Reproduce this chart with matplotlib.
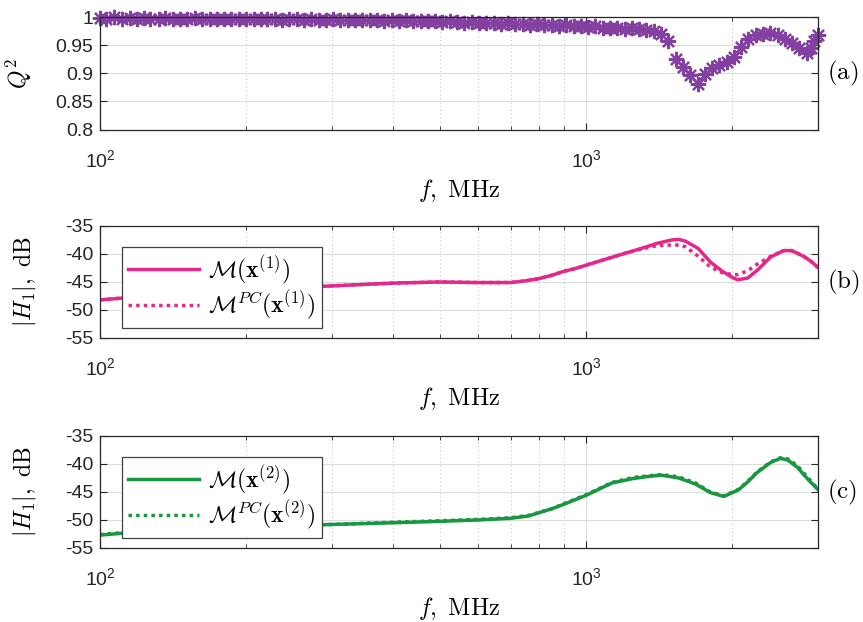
import matplotlib
matplotlib.use("Agg")
from matplotlib import pyplot as plt
from matplotlib import ticker
import numpy as np

# --- data ---
f_q = [100, 103, 107, 111, 115, 119, 123, 127, 132, 136, 141, 146, 151, 157, 162,
       168, 174, 180, 186, 193, 200, 207, 214, 221, 229, 237, 245, 254, 263, 272,
       282, 292, 302, 312, 323, 335, 346, 359, 371, 384, 398, 412, 426, 441, 457,
       473, 489, 506, 524, 543, 562, 582, 602, 623, 645, 667, 691, 715, 740, 766,
       793, 821, 850, 880, 911, 943, 976, 1010, 1045, 1082, 1120, 1159, 1200, 1242,
       1286, 1331, 1378, 1426, 1476, 1528, 1582, 1637, 1695, 1754, 1816, 1880, 1946,
       2014, 2085, 2158, 2234, 2312, 2393, 2477, 2564, 2654, 2747, 2843, 2900, 2950, 3000]
q2 = [0.999, 0.998, 1.000, 0.997, 0.999, 0.998, 0.999, 0.998, 0.997, 0.999, 0.998,
      0.997, 0.998, 0.999, 0.997, 0.998, 0.998, 0.997, 0.998, 0.997, 0.998, 0.997,
      0.997, 0.998, 0.997, 0.996, 0.997, 0.997, 0.996, 0.997, 0.996, 0.996, 0.997,
      0.996, 0.995, 0.996, 0.995, 0.996, 0.995, 0.994, 0.995, 0.994, 0.995, 0.994,
      0.993, 0.994, 0.993, 0.992, 0.993, 0.992, 0.991, 0.992, 0.990, 0.991, 0.990,
      0.989, 0.990, 0.988, 0.989, 0.987, 0.988, 0.986, 0.987, 0.985, 0.986, 0.984,
      0.985, 0.983, 0.984, 0.982, 0.981, 0.982, 0.980, 0.981, 0.979, 0.978, 0.976,
      0.971, 0.958, 0.926, 0.912, 0.898, 0.882, 0.899, 0.909, 0.915, 0.921, 0.930,
      0.947, 0.962, 0.968, 0.971, 0.972, 0.969, 0.962, 0.955, 0.946, 0.937, 0.945,
      0.958, 0.969]

f_h = [100, 110, 125, 150, 200, 250, 300, 400, 500, 600, 700, 750, 800, 850, 900,
       950, 1000, 1100, 1200, 1300, 1400, 1500, 1550, 1600, 1700, 1800, 1900, 2000,
       2050, 2150, 2250, 2400, 2550, 2650, 2800, 2900, 3000]
h1_model1 = [-48.2, -47.9, -47.5, -47.0, -46.4, -46.0, -45.7, -45.2, -45.0, -45.1,
             -45.1, -44.8, -44.4, -43.8, -43.1, -42.6, -42.0, -40.9, -39.9, -39.0,
             -38.1, -37.5, -37.4, -37.7, -39.0, -41.4, -43.0, -44.2, -44.6, -44.3,
             -42.9, -40.5, -39.4, -39.4, -40.4, -41.3, -42.4]
h1_pc1 = [-48.2, -47.9, -47.5, -47.0, -46.4, -46.0, -45.7, -45.2, -45.0, -45.1,
          -45.1, -44.8, -44.4, -43.8, -43.1, -42.6, -42.0, -40.9, -39.9, -39.1,
          -38.5, -38.4, -38.4, -38.7, -40.4, -42.3, -43.3, -43.7, -43.7, -43.0,
          -41.8, -40.4, -39.4, -39.4, -40.4, -41.3, -42.4]

f_h2 = [100, 110, 125, 150, 200, 300, 400, 476, 600, 700, 760, 850, 900, 1000,
        1130, 1250, 1350, 1430, 1550, 1680, 1800, 1920, 2060, 2150, 2250, 2400,
        2510, 2600, 2720, 2850, 3000]
h1_model2 = [-52.7, -52.4, -52.0, -51.6, -51.2, -50.8, -50.5, -50.3, -50.0, -49.7,
             -49.3, -48.0, -47.2, -45.6, -43.4, -42.6, -42.2, -42.0, -42.5, -43.6,
             -45.1, -45.8, -44.6, -43.2, -41.5, -39.7, -39.0, -39.3, -40.6, -42.6,
             -44.6]
h1_pc2 = [-52.6, -52.3, -52.0, -51.5, -51.1, -50.8, -50.4, -50.2, -49.9, -49.6,
          -49.2, -48.0, -47.1, -45.5, -43.3, -42.4, -42.1, -41.9, -42.3, -43.4,
          -45.0, -45.7, -44.5, -43.1, -41.4, -39.6, -38.9, -39.1, -40.3, -42.3,
          -44.5]

plt.rcParams['font.family'] = ['Liberation Sans', 'DejaVu Sans']
plt.rcParams['mathtext.fontset'] = 'cm'
plt.rcParams['axes.unicode_minus'] = False

fig = plt.figure(figsize=(8.63, 6.22), dpi=100)

purple = '#8340a0'
pink = '#e3288a'
green = '#17973f'


def style_axes(ax, ylim, yticks, tag):
    ax.set_xscale('log')
    ax.set_xlim(100, 3000)
    ax.set_ylim(*ylim)
    ax.set_yticks(yticks)
    ax.xaxis.set_major_locator(ticker.FixedLocator([100, 1000]))
    ax.xaxis.set_minor_locator(ticker.FixedLocator([200, 300, 400, 500, 600, 700, 800, 900, 2000, 3000]))
    ax.xaxis.set_minor_formatter(ticker.NullFormatter())
    ax.grid(True, which='major', color='#dddddd', linewidth=0.8, linestyle='-')
    ax.grid(True, which='minor', axis='x', color='#c8c8c8', linewidth=0.8, linestyle=(0, (1, 2.5)))
    ax.set_axisbelow(True)
    ax.tick_params(which='both', direction='in', top=True, right=True,
                   colors='#262626', labelsize=14)
    ax.tick_params(axis='x', which='major', pad=14, length=5)
    ax.tick_params(axis='x', which='minor', length=3)
    ax.tick_params(axis='y', pad=5, length=5)
    for s in ax.spines.values():
        s.set_color('#262626')
        s.set_linewidth(0.9)
    ax.set_xlabel(r'$f,\ \mathrm{MHz}$', fontsize=17.5)
    ax.xaxis.set_label_coords(0.5, -0.42)
    ax.text(1.012, 0.5, r'$\mathrm{' + tag + '}$', transform=ax.transAxes,
            ha='left', va='center', fontsize=18)


# (a) Q^2
ax1 = fig.add_axes([0.1159, 0.7918, 0.8320, 0.1801])
ax1.plot(f_q, q2, linestyle='none', marker=(8, 2, 0), markersize=11,
         markeredgewidth=1.6, color=purple, clip_on=False)
style_axes(ax1, (0.8, 1.0), [0.8, 0.85, 0.9, 0.95, 1.0], '(a)')
ax1.yaxis.set_major_formatter(ticker.FuncFormatter(lambda v, p: f'{v:g}'))
ax1.set_ylabel(r'$Q^2$', fontsize=17)
ax1.yaxis.set_label_coords(-0.092, 0.5)

# (b)
ax2 = fig.add_axes([0.1159, 0.4566, 0.8320, 0.1801])
ax2.plot(f_h, h1_model1, color=pink, linewidth=2.5, label=r'$\mathcal{M}(\mathbf{x}^{(1)})$')
ax2.plot(f_h, h1_pc1, color=pink, linewidth=2.5, linestyle=(0, (1, 1.2)),
         label=r'$\mathcal{M}^{PC}(\mathbf{x}^{(1)})$')
style_axes(ax2, (-55, -35), [-55, -50, -45, -40, -35], '(b)')
ax2.set_ylabel(r'$|H_1|,\ \mathrm{dB}$', fontsize=17)
ax2.yaxis.set_label_coords(-0.086, 0.5)

# (c)
ax3 = fig.add_axes([0.1159, 0.1190, 0.8320, 0.1801])
ax3.plot(f_h2, h1_model2, color=green, linewidth=2.5, label=r'$\mathcal{M}(\mathbf{x}^{(2)})$')
ax3.plot(f_h2, h1_pc2, color=green, linewidth=2.5, linestyle=(0, (1, 1.2)),
         label=r'$\mathcal{M}^{PC}(\mathbf{x}^{(2)})$')
style_axes(ax3, (-55, -35), [-55, -50, -45, -40, -35], '(c)')
ax3.set_ylabel(r'$|H_1|,\ \mathrm{dB}$', fontsize=17)
ax3.yaxis.set_label_coords(-0.086, 0.5)

for ax in (ax2, ax3):
    leg = ax.legend(loc='upper left', bbox_to_anchor=(0.031, 0.81), borderaxespad=0,
                    fontsize=17, handlelength=3.0, handletextpad=0.4, labelspacing=0.1,
                    borderpad=0.25, fancybox=False, framealpha=1, edgecolor='#404040')
    leg.get_frame().set_linewidth(0.9)

fig.savefig('out.png', dpi=100)
